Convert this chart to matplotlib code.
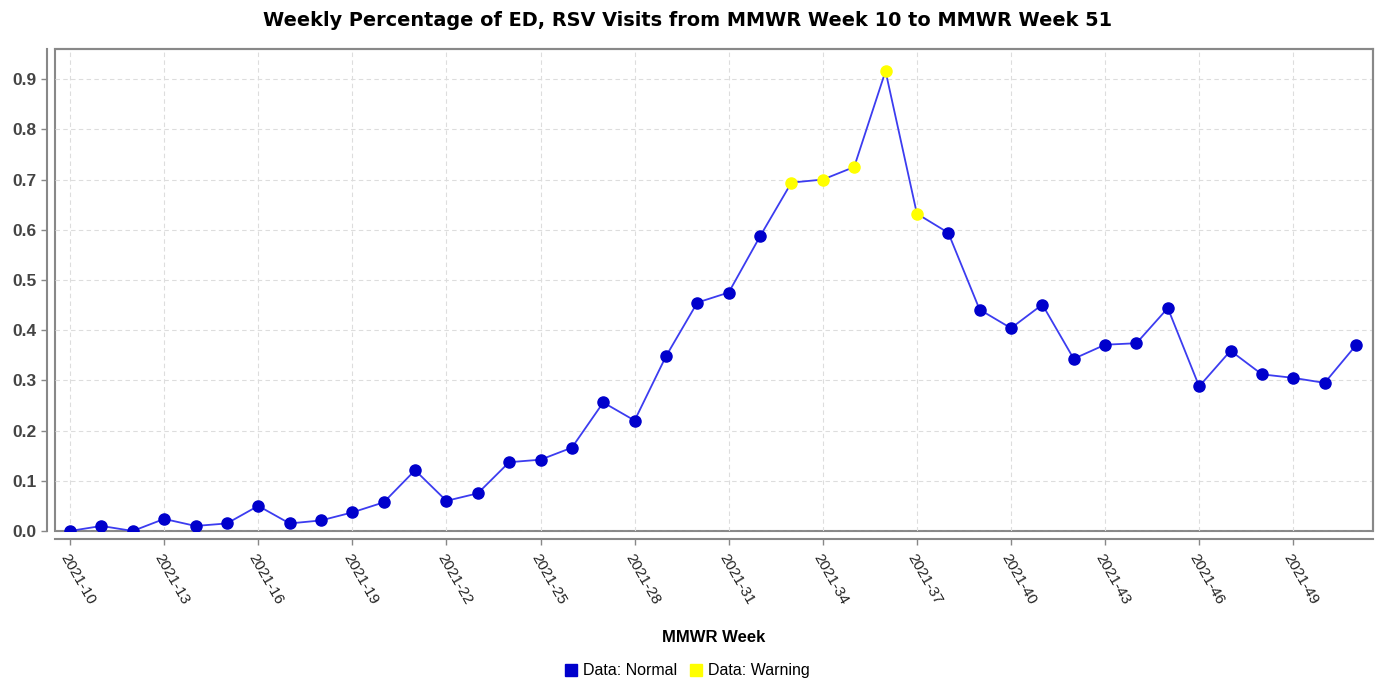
import numpy as np
import matplotlib
matplotlib.use('Agg')
import matplotlib.pyplot as plt
from matplotlib.lines import Line2D

plt.rcParams['font.family'] = ['Liberation Sans', 'DejaVu Sans']

weeks = list(range(10, 52))
values = [0.000, 0.010, 0.000, 0.024, 0.010, 0.015, 0.050, 0.015, 0.021, 0.037,
          0.057, 0.121, 0.060, 0.075, 0.137, 0.142, 0.166, 0.256, 0.220, 0.348,
          0.455, 0.475, 0.587, 0.694, 0.700, 0.725, 0.916, 0.632, 0.594, 0.441,
          0.404, 0.451, 0.343, 0.371, 0.374, 0.444, 0.288, 0.359, 0.312, 0.305,
          0.295, 0.370]
warning_weeks = [33, 34, 35, 36, 37]
tick_weeks = list(range(10, 52, 3))
tick_labels = [f'2021-{w}' for w in tick_weeks]
y_ticks = [0.0, 0.1, 0.2, 0.3, 0.4, 0.5, 0.6, 0.7, 0.8, 0.9]

fig = plt.figure(figsize=(13.75, 6.81), dpi=100)
ax = fig.add_axes([0.040, 0.2203, 0.9585, 0.7077])

ax.plot(weeks, values, color='#3c3cf0', lw=1.3, zorder=3)
is_warn = np.isin(weeks, warning_weeks)
w = np.array(weeks)
v = np.array(values)
ax.plot(w[~is_warn], v[~is_warn], 'o', color='#0000cc', ms=8, mec='#0000cc', zorder=4)
ax.plot(w[is_warn], v[is_warn], 'o', color='#ffff00', ms=8, mec='#ffff00', zorder=4)

ax.set_xlim(9.52, 51.54)
ax.set_ylim(0, 0.96)

ax.grid(True, color='#dddddd', linestyle=(0, (4, 3)), lw=0.8)
ax.set_axisbelow(True)

for s in ['top', 'right']:
    ax.spines[s].set_color('#888888')
    ax.spines[s].set_linewidth(1.5)
for s in ['left', 'bottom']:
    ax.spines[s].set_position(('outward', 6))
    ax.spines[s].set_color('#888888')
    ax.spines[s].set_linewidth(1.5)
ax.patch.set_edgecolor('#888888')
ax.patch.set_linewidth(1.5)

ax.tick_params(axis='both', color='#888888', length=4, width=1)
ax.tick_params(axis='x', pad=5)

ax.set_xticks(tick_weeks)
ax.set_xticklabels(tick_labels)
ax.set_yticks(y_ticks)
ax.set_yticklabels([f'{t:.1f}' for t in y_ticks])
plt.setp(ax.get_xticklabels(), rotation=-60, ha='left', va='top', rotation_mode='anchor',
         fontsize=11, color='#222222')
plt.setp(ax.get_yticklabels(), fontsize=12.5, fontweight='bold', color='#444444')

fig.text(0.5, 0.9706, 'Weekly Percentage of ED, RSV Visits from MMWR Week 10 to MMWR Week 51',
         ha='center', va='center', fontsize=13.9, fontweight='bold', family='DejaVu Sans')
ax.set_xlabel('MMWR Week', fontsize=12, fontweight='bold', labelpad=16)

handles = [Line2D([], [], marker='s', ls='none', color='#0000cc', ms=9),
           Line2D([], [], marker='s', ls='none', color='#ffff00', ms=9)]
fig.legend(handles, ['Data: Normal', 'Data: Warning'], loc='center', bbox_to_anchor=(0.5, 0.015),
           ncol=2, frameon=False, fontsize=11.5, handlelength=0.8, handletextpad=0.35, columnspacing=0.8)

fig.savefig('out.png', dpi=100)
